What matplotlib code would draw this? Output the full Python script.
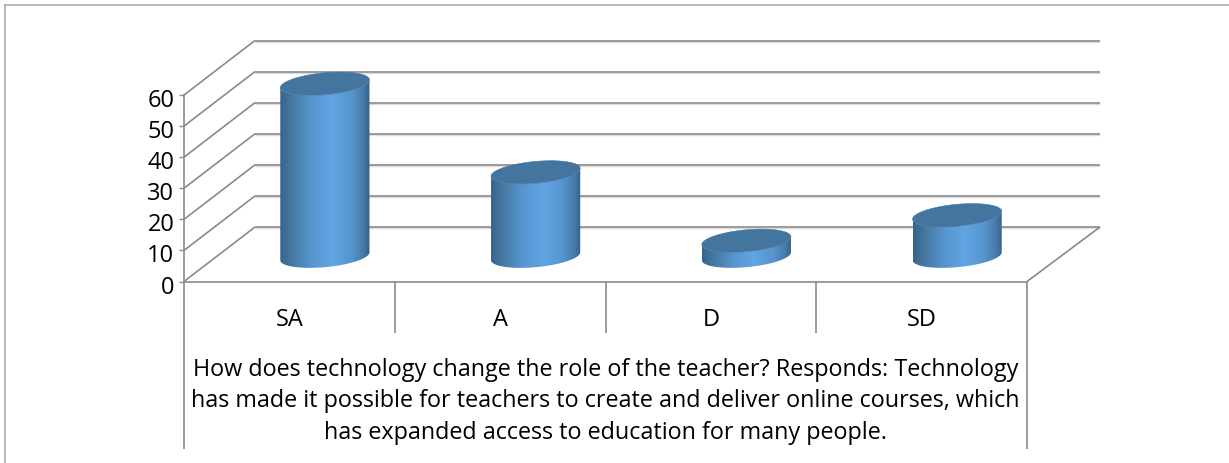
import numpy as np
import matplotlib
matplotlib.use("Agg")
import matplotlib.pyplot as plt
from matplotlib.colors import LinearSegmentedColormap
from matplotlib.patches import Polygon
from matplotlib.lines import Line2D
from matplotlib.transforms import ScaledTranslation

categories = ["SA", "A", "D", "SD"]
values = [55.5, 27, 5, 13.2]
y_ticks = [0, 10, 20, 30, 40, 50, 60]
x_title = ("How does technology change the role of the teacher? Responds: Technology\n"
           "has made it possible for teachers to create and deliver online courses, which\n"
           "has expanded access to education for many people.")

W, H = 1229, 464
plt.rcParams['font.family'] = ['Open Sans', 'DejaVu Sans']
fig = plt.figure(figsize=(W / 100, H / 100), dpi=100, facecolor='white')

# chart frame: left and top edges only reach the picture
GRID = '#8a8a8a'
FRAME = '#a6a6a6'
fig.add_artist(Line2D([5 / W, 5 / W], [0, 1 - 6 / H], color=FRAME, lw=1.1))
fig.add_artist(Line2D([5 / W, 1], [1 - 6 / H, 1 - 6 / H], color=FRAME, lw=1.1))

LEFT, RIGHT, BOTTOM, TOP = 184, 1027, 282.5, 96
ax = fig.add_axes([LEFT / W, 1 - BOTTOM / H, (RIGHT - LEFT) / W, (BOTTOM - TOP) / H])
ax.patch.set_alpha(0)

px_x = (RIGHT - LEFT) / len(categories)
px_y = (BOTTOM - TOP) / 60
DX = 71 / px_x
DY = 54.5 / px_y
BACK_EXTRA = 2 / px_x


def proj(x, y, d):
    return x + d * DX, y + d * DY


def line(xs, ys, color=GRID, lw=1.2, z=1, **kw):
    ax.plot(xs, ys, color=color, lw=lw, clip_on=False, zorder=z, solid_capstyle='butt', **kw)


# walls and floor
for v in y_ticks:
    x0, y0 = proj(0, v, 0)
    x1, y1 = proj(0, v, 1)
    x2, y2 = proj(len(categories) + BACK_EXTRA, v, 1)
    line([x0, x1], [y0, y1])
    line([x1, x2], [y1, y2])
    line([x1, x2], [y1 - 1.4 / px_y, y2 - 1.4 / px_y], color='#dcdcdc', lw=1.0, z=0.9)
xa, ya = proj(len(categories), 0, 0)
xb, yb = proj(len(categories) + BACK_EXTRA, 0, 1)
line([xa, xb], [ya, yb])

# cylinders
cmap = LinearSegmentedColormap.from_list(
    'cyl', [(0, '#37638c'), (0.12, '#44779f'), (0.35, '#5795cf'), (0.58, '#60a5e4'),
            (0.8, '#5694cd'), (0.93, '#467aa8'), (1, '#355f88')])
RX, RD = 0.199, 0.213
gradient = np.linspace(0, 1, 256).reshape(1, -1)


def ring(cx, val, t):
    x = cx + RX * np.cos(t) + RD * DX * np.sin(t)
    y = val + RD * DY * np.sin(t)
    return x, y


for i, v in enumerate(values):
    cx, _ = proj(i + 0.5, 0, 0.5)
    base = 0.5 * DY - 2 / px_y
    half = np.hypot(RX, RD * DX)
    t0 = np.arctan2(RD * DX, RX)
    ts = np.linspace(t0 - np.pi, t0, 90)  # front half of the ring
    xf, yf = ring(cx, base, ts)
    xu, yu = ring(cx, base + v, ts[::-1])
    body = Polygon(np.column_stack([np.r_[xf, xu], np.r_[yf, yu]]), closed=True,
                   facecolor='none', edgecolor='none', transform=ax.transData)
    ax.add_patch(body)
    body.set_clip_on(False)
    lo = yf.min()
    hi = base + v + RD * DY
    im = ax.imshow(gradient, cmap=cmap, aspect='auto', interpolation='bilinear',
                   extent=(cx - half, cx + half, lo, hi), zorder=3)
    im.set_clip_box(fig.bbox)
    im.set_clip_path(body)
    tt = np.linspace(0, 2 * np.pi, 120)
    xt, yt = ring(cx, base + v, tt)
    ax.add_patch(Polygon(np.column_stack([xt, yt]), closed=True, facecolor='#44759f',
                         edgecolor='#44759f', lw=0.4, clip_on=False, zorder=4))

ax.set_xlim(0, len(categories))
ax.set_ylim(0, 60)

# axes
for s in ('top', 'right'):
    ax.spines[s].set_visible(False)
for s in ('left', 'bottom'):
    ax.spines[s].set_color(GRID)
    ax.spines[s].set_linewidth(1.2)
    ax.spines[s].set_zorder(2)
ax.set_yticks(y_ticks)
ax.set_yticklabels([str(v) for v in y_ticks], fontsize=17, color='black')
ax.tick_params(axis='y', length=3.5, width=1.0, color=GRID, pad=3.5)
shift = ScaledTranslation(0, -1.5 / 72, fig.dpi_scale_trans)
for lab in ax.get_yticklabels():
    lab.set_transform(lab.get_transform() + shift)
ax.set_xticks(np.arange(len(categories)) + 0.5)
ax.set_xticklabels(categories, fontsize=17, color='black')
ax.tick_params(axis='x', length=0, pad=18.5)

# label table separators
for k in range(len(categories) + 1):
    end = 450 if k in (0, len(categories)) else 334
    line([k, k], [0, (BOTTOM - end) / px_y])

ax.set_xlabel(x_title, fontsize=16.8, color='black', labelpad=18.5, linespacing=1.42)

fig.savefig('out.png', dpi=100, facecolor='white')
